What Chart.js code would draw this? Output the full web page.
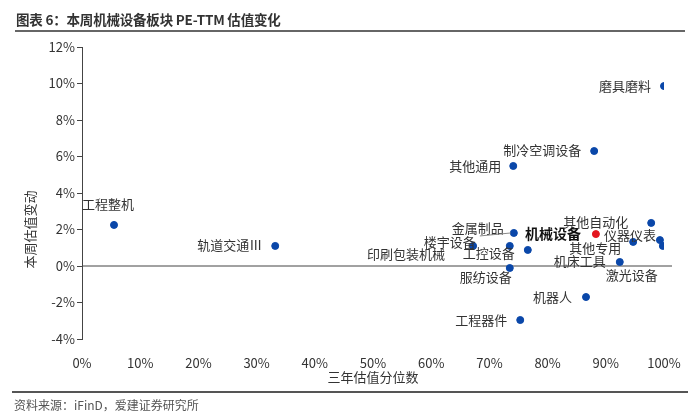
<!DOCTYPE html>
<html>
<head>
<meta charset="utf-8">
<script src="https://cdn.jsdelivr.net/npm/chart.js@4/dist/chart.umd.min.js"></script>
<style>
  body { margin: 0; background: #fff; font-family: "Noto Sans CJK SC", sans-serif; }
  #wrap { position: relative; width: 700px; height: 415px; }
  #title { position: absolute; left: 16px; top: 9px; font-size: 13.5px; font-weight: bold; color: #333; letter-spacing: -0.2px; }
  #topline { position: absolute; left: 15px; top: 30px; width: 670px; height: 2px; background: #666; }
  #botline { position: absolute; left: 12px; top: 391px; width: 676px; height: 1.5px; background: #555; }
  #source { position: absolute; left: 14px; top: 396px; font-size: 12px; color: #555; }
  #myChart { position: absolute; left: 0; top: 0; }
</style>
</head>
<body>
<div id="wrap">
  <canvas id="myChart" width="700" height="415"></canvas>
  <div id="title">图表 6：本周机械设备板块 PE-TTM 估值变化</div>
  <div id="topline"></div>
  <div id="botline"></div>
  <div id="source">资料来源：iFinD，爱建证券研究所</div>
</div>
<script>
// 行业名称
const names = ['工程整机','轨道交通Ⅲ','磨具磨料','制冷空调设备','其他通用','金属制品','楼宇设备','印刷包装机械',
  '工控设备','服纺设备','机械设备','其他自动化','仪器仪表','其他专用','机床工具','激光设备','机器人','工程器件'];
// 三年估值分位数 (%)
const percentile = [5.5,33.2,100.0,88.0,74.1,74.2,73.5,67.2,76.6,73.5,88.3,97.8,99.3,94.7,92.4,99.8,86.6,75.3];
// 本周估值变动 (%)
const change = [2.25,1.10,9.86,6.30,5.48,1.81,1.10,1.10,0.88,-0.11,1.75,2.36,1.42,1.32,0.22,1.10,-1.70,-2.96];

// label placement: [dx, dy, align]
const labelPos = [[-6,-21,'center'],[-13,-1,'right'],[-13,0,'right'],[-13,-1,'right'],[-12,0,'right'],
  [-10,-5,'right'],[-34,-4,'right'],[-28,8,'right'],[-13,3,'right'],[2,9,'right'],[-15,0,'right'],
  [-23,-1,'right'],[-4,-5,'right'],[-12,6,'right'],[-14,-1,'right'],[-5,29,'right'],[-14,0,'right'],[-13,0,'right']];

const blue = '#0a47a9';
const red = '#e3161e';
const points = names.map((n, i) => ({x: percentile[i], y: change[i]}));
const colors = names.map(n => n === '机械设备' ? red : blue);

const labelPlugin = {
  id: 'labels',
  beforeDatasetsDraw(chart) {
    // zero line runs a bit past the plot edge
    const ctx = chart.ctx, y0 = chart.scales.y.getPixelForValue(0), a = chart.chartArea;
    ctx.save();
    ctx.strokeStyle = '#444';
    ctx.lineWidth = 1;
    ctx.beginPath();
    ctx.moveTo(a.left, y0);
    ctx.lineTo(a.right + 8, y0);
    ctx.stroke();
    // y axis title, sits a little below the middle like the original
    ctx.translate(30, chart.scales.y.getPixelForValue(2));
    ctx.rotate(-Math.PI / 2);
    ctx.font = '13px "Noto Sans CJK SC"';
    ctx.fillStyle = '#333';
    ctx.textAlign = 'center';
    ctx.textBaseline = 'middle';
    ctx.fillText('本周估值变动', 0, 0);
    ctx.restore();
  },
  afterDatasetsDraw(chart) {
    const ctx = chart.ctx;
    const meta = chart.getDatasetMeta(0);
    ctx.save();
    ctx.textBaseline = 'middle';
    meta.data.forEach((pt, i) => {
      const p = labelPos[i];
      const bold = names[i] === '机械设备';
      ctx.font = (bold ? 'bold 14px' : '13px') + ' "Noto Sans CJK SC"';
      ctx.fillStyle = bold ? '#111' : '#333';
      ctx.textAlign = p[2];
      ctx.fillText(names[i], pt.x + p[0], pt.y + p[1]);
      if (names[i] === '金属制品') {
        ctx.strokeStyle = '#888';
        ctx.lineWidth = 1;
        ctx.beginPath();
        ctx.moveTo(pt.x - 34, pt.y + 3);
        ctx.lineTo(pt.x - 3, pt.y);
        ctx.stroke();
      }
    });
    ctx.restore();
  }
};

new Chart(document.getElementById('myChart'), {
  type: 'scatter',
  data: {
    datasets: [{
      data: points,
      backgroundColor: colors,
      borderColor: colors,
      pointRadius: 3.5,
      pointHoverRadius: 3.5
    }]
  },
  options: {
    responsive: false,
    animation: false,
    layout: { padding: { left: 0, right: 36, top: 47, bottom: 26 } },
    plugins: { legend: { display: false }, tooltip: { enabled: false } },
    scales: {
      x: {
        min: 0, max: 100,
        afterFit: s => { s.height = 50; },
        grid: { display: false },
        border: { display: false },
        ticks: { stepSize: 10, padding: 8, color: '#333', font: { size: 13, family: 'Noto Sans CJK SC' },
          callback: v => v + '%' },
        title: { display: true, text: '三年估值分位数', color: '#333', padding: { top: 0 },
          font: { size: 13, family: 'Noto Sans CJK SC' } }
      },
      y: {
        min: -4, max: 12,
        afterFit: s => { s.width = 82; },
        grid: {
          drawOnChartArea: false,
          tickColor: '#444',
          tickLength: 5
        },
        border: { display: true, color: '#444' },
        ticks: { stepSize: 2, padding: 2, color: '#333', font: { size: 13, family: 'Noto Sans CJK SC' },
          callback: v => v + '%' }
      }
    }
  },
  plugins: [labelPlugin]
});
</script>
</body>
</html>
